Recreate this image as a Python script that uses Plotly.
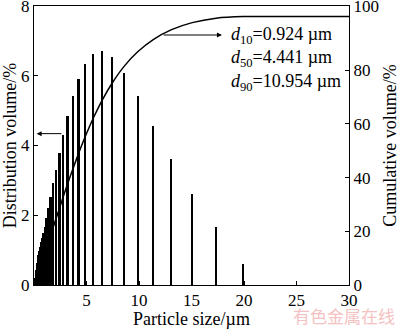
import numpy as np
import plotly.graph_objects as go

# Particle size classes (upper edge of each class, µm)
sizes = [0.10, 0.11, 0.13, 0.15, 0.17, 0.19, 0.22, 0.26, 0.30, 0.34, 0.39, 0.45,
         0.52, 0.60, 0.69, 0.79, 0.91, 1.05, 1.21, 1.39, 1.60, 1.84, 2.12, 2.44,
         2.80, 3.22, 3.71, 4.27, 4.91, 5.65, 6.50, 7.48, 8.60, 9.90, 11.39, 13.10,
         15.07, 17.34, 19.95, 22.95, 26.41, 30.38]

# Volume fraction in each class (%)
distribution = [0.02, 0.05, 0.08, 0.13, 0.19, 0.26, 0.34, 0.43, 0.53, 0.63, 0.74, 0.85,
                0.97, 1.09, 1.22, 1.36, 1.50, 1.67, 1.92, 2.20, 2.52, 2.93, 3.31, 3.78,
                4.31, 4.85, 5.41, 5.92, 6.35, 6.62, 6.70, 6.54, 6.09, 5.42, 4.56, 3.60,
                2.62, 1.65, 0.60, 0.00, 0.00, 0.00]

# Cumulative volume (%) undersize at each class edge
cumulative = np.cumsum(distribution)

x_ticks = [5, 10, 15, 20, 25, 30]
y_ticks = [0, 2, 4, 6, 8]
y2_ticks = [0, 20, 40, 60, 80]
y2_top = 103.9

summary_lines = [
    "<i>d</i><sub>10</sub>=0.924 µm",
    "<i>d</i><sub>50</sub>=4.441 µm",
    "<i>d</i><sub>90</sub>=10.954 µm",
]

SERIF = "Liberation Serif, Times New Roman, serif"

fig = go.Figure()
fig.add_trace(go.Bar(
    x=sizes, y=distribution, width=0.17,
    marker=dict(color="black", line=dict(width=0)),
    yaxis="y", showlegend=False,
))
fig.add_trace(go.Scatter(
    x=sizes, y=cumulative, mode="lines",
    line=dict(color="black", width=1.5, shape="spline", smoothing=0.8),
    yaxis="y2", showlegend=False, cliponaxis=True,
))

axis_common = dict(
    showline=True, linecolor="black", linewidth=1,
    ticks="inside", ticklen=4, tickwidth=1, tickcolor="black",
    showgrid=False, zeroline=False, ticklabeloverflow="allow",
    tickfont=dict(family=SERIF, size=17, color="black"),
)

fig.update_layout(
    width=400, height=329,
    margin=dict(l=34, r=51, t=6, b=44),
    paper_bgcolor="white", plot_bgcolor="white",
    font=dict(family=SERIF, size=18, color="black"),
    bargap=0,
    xaxis=dict(
        range=[0, 30], tickvals=x_ticks, mirror=True,
        title=dict(text="Particle size/µm", font=dict(family=SERIF, size=18), standoff=4),
        automargin=False, **axis_common,
    ),
    yaxis=dict(
        range=[0, 8], tickvals=y_ticks, mirror=True,
        title=dict(text="Distribution volume/%", font=dict(family=SERIF, size=18), standoff=2),
        automargin=False, **axis_common,
    ),
    yaxis2=dict(
        range=[0, y2_top], overlaying="y", side="right",
        tickvals=y2_ticks + [y2_top], ticktext=[str(v) for v in y2_ticks] + ["100"],
        title=dict(text="Cumulative volume/%", font=dict(family=SERIF, size=18), standoff=11),
        automargin=False, **axis_common,
    ),
)

# Arrow: bars read on the left axis
fig.add_annotation(
    x=0.25, y=4.34, ax=2.75, ay=4.34, xref="x", yref="y", axref="x", ayref="y",
    text="", showarrow=True, arrowhead=2, arrowsize=1, arrowwidth=1, arrowcolor="black",
)
# Arrow: curve read on the right axis
fig.add_annotation(
    x=17.9, y=93.1, ax=12.2, ay=93.1, xref="x", yref="y2", axref="x", ayref="y2",
    text="", showarrow=True, arrowhead=2, arrowsize=1, arrowwidth=1, arrowcolor="black",
)
# Characteristic diameters
fig.add_annotation(
    x=18.6, y=84.0, xref="x", yref="y2", xanchor="left", yanchor="middle",
    text="<br>".join(summary_lines), align="left", showarrow=False,
    font=dict(family=SERIF, size=18, color="black"),
)
# Site mark
fig.add_annotation(
    x=1.0, y=0.0, xref="paper", yref="paper", xanchor="right", yanchor="bottom",
    xshift=48, yshift=-45,
    text="有色金属在线", showarrow=False,
    font=dict(family="Noto Sans CJK SC", size=17, color="#f4c2c2"),
)

fig.write_html("out.html")
